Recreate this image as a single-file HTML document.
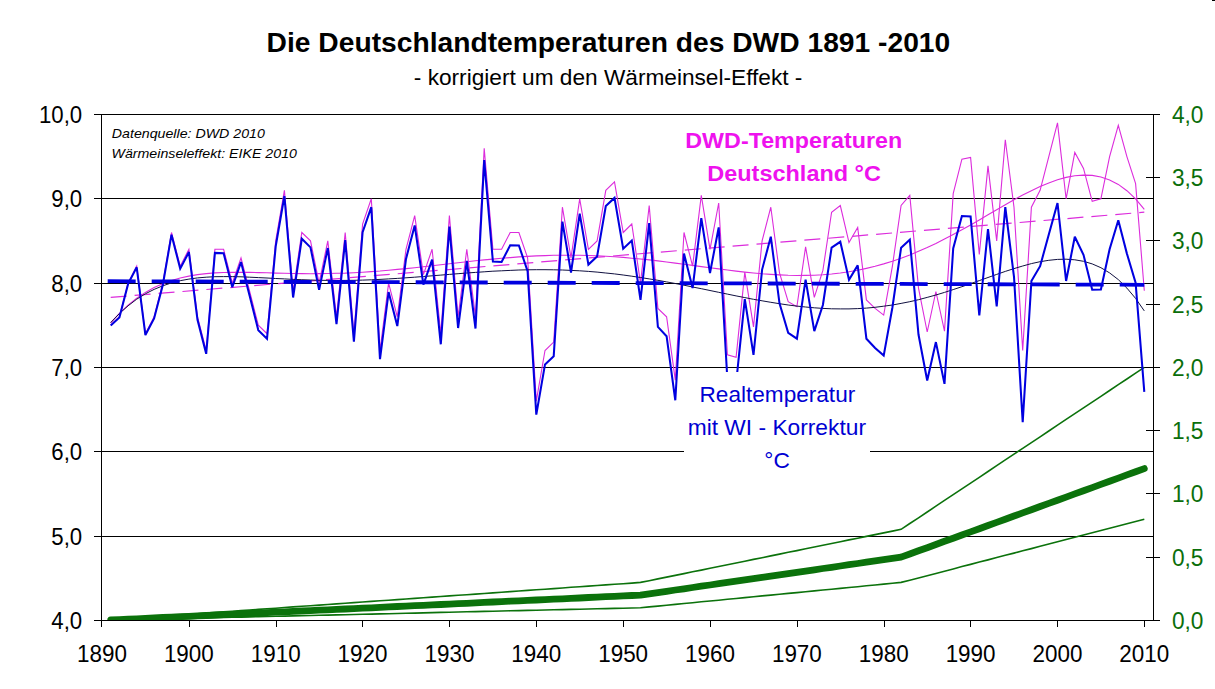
<!DOCTYPE html>
<html><head><meta charset="utf-8"><title>Deutschlandtemperaturen</title>
<style>
html,body{margin:0;padding:0;background:#fff;}
body{width:1215px;height:689px;overflow:hidden;position:relative;font-family:"Liberation Sans",sans-serif;}
svg{position:absolute;left:0;top:0;}
text{font-family:"Liberation Sans",sans-serif;}
</style></head><body>
<svg width="1215" height="689" viewBox="0 0 1215 689">
<rect width="1215" height="689" fill="#ffffff"/>

<g shape-rendering="crispEdges">
<rect x="94" y="114" width="1060" height="1" fill="#000"/>
<rect x="94" y="198" width="1060" height="1" fill="#000"/>
<rect x="94" y="283" width="1060" height="1" fill="#000"/>
<rect x="94" y="367" width="1060" height="1" fill="#000"/>
<rect x="94" y="451" width="1060" height="1" fill="#000"/>
<rect x="94" y="536" width="1060" height="1" fill="#000"/>
<rect x="94" y="620" width="1066" height="1" fill="#000"/>
<rect x="101" y="114" width="1" height="513" fill="#000"/>
<rect x="1153" y="114" width="1" height="507" fill="#000"/>
<rect x="189" y="620" width="1" height="7" fill="#000"/>
<rect x="276" y="620" width="1" height="7" fill="#000"/>
<rect x="362" y="620" width="1" height="7" fill="#000"/>
<rect x="449" y="620" width="1" height="7" fill="#000"/>
<rect x="536" y="620" width="1" height="7" fill="#000"/>
<rect x="623" y="620" width="1" height="7" fill="#000"/>
<rect x="710" y="620" width="1" height="7" fill="#000"/>
<rect x="797" y="620" width="1" height="7" fill="#000"/>
<rect x="884" y="620" width="1" height="7" fill="#000"/>
<rect x="970" y="620" width="1" height="7" fill="#000"/>
<rect x="1057" y="620" width="1" height="7" fill="#000"/>
<rect x="1144" y="620" width="1" height="7" fill="#000"/>
<rect x="1146" y="620" width="14" height="1" fill="#000"/>
<rect x="1146" y="557" width="14" height="1" fill="#000"/>
<rect x="1146" y="493" width="14" height="1" fill="#000"/>
<rect x="1146" y="430" width="14" height="1" fill="#000"/>
<rect x="1146" y="367" width="14" height="1" fill="#000"/>
<rect x="1146" y="304" width="14" height="1" fill="#000"/>
<rect x="1146" y="240" width="14" height="1" fill="#000"/>
<rect x="1146" y="177" width="14" height="1" fill="#000"/>
<rect x="1146" y="114" width="14" height="1" fill="#000"/>
</g>
<clipPath id="pc"><rect x="102" y="114" width="1051" height="506"/></clipPath><g clip-path="url(#pc)">
<path d="M110.7,619.8 L119.4,619.2 L128.1,618.6 L136.7,618.0 L145.4,617.3 L154.1,616.7 L162.8,616.1 L171.5,615.5 L180.2,614.9 L188.9,614.3 L197.5,613.7 L206.2,613.1 L214.9,612.4 L223.6,611.8 L232.3,611.2 L241.0,610.6 L249.7,610.0 L258.3,609.4 L267.0,608.8 L275.7,608.2 L284.4,607.5 L293.1,606.9 L301.8,606.3 L310.5,605.7 L319.1,605.1 L327.8,604.5 L336.5,603.9 L345.2,603.3 L353.9,602.6 L362.6,602.0 L371.3,601.4 L380.0,600.8 L388.6,600.2 L397.3,599.6 L406.0,599.0 L414.7,598.4 L423.4,597.8 L432.1,597.1 L440.8,596.5 L449.4,595.9 L458.1,595.3 L466.8,594.7 L475.5,594.1 L484.2,593.5 L492.9,592.9 L501.6,592.2 L510.2,591.6 L518.9,591.0 L527.6,590.4 L536.3,589.8 L545.0,589.2 L553.7,588.6 L562.4,588.0 L571.0,587.3 L579.7,586.7 L588.4,586.1 L597.1,585.5 L605.8,584.9 L614.5,584.3 L623.2,583.7 L631.8,583.1 L640.5,582.4 L649.2,580.7 L657.9,578.9 L666.6,577.1 L675.3,575.4 L684.0,573.6 L692.6,571.8 L701.3,570.1 L710.0,568.3 L718.7,566.5 L727.4,564.7 L736.1,563.0 L744.8,561.2 L753.5,559.4 L762.1,557.7 L770.8,555.9 L779.5,554.1 L788.2,552.3 L796.9,550.6 L805.6,548.8 L814.3,547.0 L822.9,545.3 L831.6,543.5 L840.3,541.7 L849.0,539.9 L857.7,538.2 L866.4,536.4 L875.1,534.6 L883.7,532.9 L892.4,531.1 L901.1,529.3 L909.8,523.5 L918.5,517.8 L927.2,512.0 L935.9,506.2 L944.5,500.4 L953.2,494.6 L961.9,488.8 L970.6,483.1 L979.3,477.3 L988.0,471.5 L996.7,465.7 L1005.3,459.9 L1014.0,454.1 L1022.7,448.4 L1031.4,442.6 L1040.1,436.8 L1048.8,431.0 L1057.5,425.2 L1066.1,419.4 L1074.8,413.7 L1083.5,407.9 L1092.2,402.1 L1100.9,396.3 L1109.6,390.5 L1118.3,384.7 L1126.9,379.0 L1135.6,373.2 L1144.3,367.4" fill="none" stroke="#0b720b" stroke-width="1.6"/>
<path d="M110.7,620.2 L119.4,620.0 L128.1,619.8 L136.7,619.6 L145.4,619.4 L154.1,619.2 L162.8,619.0 L171.5,618.8 L180.2,618.6 L188.9,618.4 L197.5,618.2 L206.2,618.0 L214.9,617.7 L223.6,617.5 L232.3,617.3 L241.0,617.1 L249.7,616.9 L258.3,616.7 L267.0,616.5 L275.7,616.3 L284.4,616.1 L293.1,615.9 L301.8,615.7 L310.5,615.5 L319.1,615.3 L327.8,615.1 L336.5,614.9 L345.2,614.7 L353.9,614.5 L362.6,614.3 L371.3,614.1 L380.0,613.9 L388.6,613.7 L397.3,613.5 L406.0,613.3 L414.7,613.1 L423.4,612.9 L432.1,612.6 L440.8,612.4 L449.4,612.2 L458.1,612.0 L466.8,611.8 L475.5,611.6 L484.2,611.4 L492.9,611.2 L501.6,611.0 L510.2,610.8 L518.9,610.6 L527.6,610.4 L536.3,610.2 L545.0,610.0 L553.7,609.8 L562.4,609.6 L571.0,609.4 L579.7,609.2 L588.4,609.0 L597.1,608.8 L605.8,608.6 L614.5,608.4 L623.2,608.2 L631.8,608.0 L640.5,607.8 L649.2,606.9 L657.9,606.1 L666.6,605.2 L675.3,604.4 L684.0,603.5 L692.6,602.7 L701.3,601.8 L710.0,601.0 L718.7,600.2 L727.4,599.3 L736.1,598.5 L744.8,597.6 L753.5,596.8 L762.1,595.9 L770.8,595.1 L779.5,594.3 L788.2,593.4 L796.9,592.6 L805.6,591.7 L814.3,590.9 L822.9,590.0 L831.6,589.2 L840.3,588.4 L849.0,587.5 L857.7,586.7 L866.4,585.8 L875.1,585.0 L883.7,584.1 L892.4,583.3 L901.1,582.4 L909.8,580.2 L918.5,577.9 L927.2,575.7 L935.9,573.4 L944.5,571.2 L953.2,568.9 L961.9,566.6 L970.6,564.4 L979.3,562.1 L988.0,559.9 L996.7,557.6 L1005.3,555.3 L1014.0,553.1 L1022.7,550.8 L1031.4,548.6 L1040.1,546.3 L1048.8,544.0 L1057.5,541.8 L1066.1,539.5 L1074.8,537.3 L1083.5,535.0 L1092.2,532.8 L1100.9,530.5 L1109.6,528.2 L1118.3,526.0 L1126.9,523.7 L1135.6,521.5 L1144.3,519.2" fill="none" stroke="#0b720b" stroke-width="1.6"/>
<path d="M110.7,620.0 L119.4,619.6 L128.1,619.2 L136.7,618.8 L145.4,618.4 L154.1,618.0 L162.8,617.5 L171.5,617.1 L180.2,616.7 L188.9,616.3 L197.5,615.9 L206.2,615.5 L214.9,615.1 L223.6,614.7 L232.3,614.3 L241.0,613.9 L249.7,613.5 L258.3,613.1 L267.0,612.6 L275.7,612.2 L284.4,611.8 L293.1,611.4 L301.8,611.0 L310.5,610.6 L319.1,610.2 L327.8,609.8 L336.5,609.4 L345.2,609.0 L353.9,608.6 L362.6,608.2 L371.3,607.8 L380.0,607.3 L388.6,606.9 L397.3,606.5 L406.0,606.1 L414.7,605.7 L423.4,605.3 L432.1,604.9 L440.8,604.5 L449.4,604.1 L458.1,603.7 L466.8,603.3 L475.5,602.9 L484.2,602.4 L492.9,602.0 L501.6,601.6 L510.2,601.2 L518.9,600.8 L527.6,600.4 L536.3,600.0 L545.0,599.6 L553.7,599.2 L562.4,598.8 L571.0,598.4 L579.7,598.0 L588.4,597.5 L597.1,597.1 L605.8,596.7 L614.5,596.3 L623.2,595.9 L631.8,595.5 L640.5,595.1 L649.2,593.8 L657.9,592.6 L666.6,591.3 L675.3,590.0 L684.0,588.8 L692.6,587.5 L701.3,586.2 L710.0,585.0 L718.7,583.7 L727.4,582.4 L736.1,581.2 L744.8,579.9 L753.5,578.7 L762.1,577.4 L770.8,576.1 L779.5,574.9 L788.2,573.6 L796.9,572.3 L805.6,571.1 L814.3,569.8 L822.9,568.5 L831.6,567.3 L840.3,566.0 L849.0,564.7 L857.7,563.5 L866.4,562.2 L875.1,560.9 L883.7,559.7 L892.4,558.4 L901.1,557.1 L909.8,554.0 L918.5,550.8 L927.2,547.7 L935.9,544.5 L944.5,541.3 L953.2,538.2 L961.9,535.0 L970.6,531.9 L979.3,528.7 L988.0,525.5 L996.7,522.4 L1005.3,519.2 L1014.0,516.0 L1022.7,512.9 L1031.4,509.7 L1040.1,506.5 L1048.8,503.4 L1057.5,500.2 L1066.1,497.1 L1074.8,493.9 L1083.5,490.7 L1092.2,487.6 L1100.9,484.4 L1109.6,481.2 L1118.3,478.1 L1126.9,474.9 L1135.6,471.8 L1144.3,468.6" fill="none" stroke="#0b720b" stroke-width="6.8" stroke-linejoin="round" stroke-linecap="round"/>
</g>
<path d="M110.7,325.2 L119.4,316.8 L128.1,283.1 L136.7,266.2 L145.4,333.7 L154.1,316.8 L162.8,283.1 L171.5,232.5 L180.2,266.2 L188.9,249.3 L197.5,316.8 L206.2,350.5 L214.9,249.3 L223.6,249.3 L232.3,283.1 L241.0,257.8 L249.7,291.5 L258.3,325.2 L267.0,333.7 L275.7,240.9 L284.4,190.3 L293.1,291.5 L301.8,232.5 L310.5,240.9 L319.1,283.1 L327.8,240.9 L336.5,316.8 L345.2,232.5 L353.9,333.7 L362.6,224.0 L371.3,198.8 L380.0,350.5 L388.6,283.1 L397.3,316.8 L406.0,249.3 L414.7,215.6 L423.4,274.6 L432.1,249.3 L440.8,333.7 L449.4,215.6 L458.1,316.8 L466.8,249.3 L475.5,316.8 L484.2,148.2 L492.9,249.3 L501.6,249.3 L510.2,232.5 L518.9,232.5 L527.6,257.8 L536.3,401.1 L545.0,350.5 L553.7,342.1 L562.4,207.2 L571.0,257.8 L579.7,198.8 L588.4,249.3 L597.1,240.9 L605.8,190.3 L614.5,181.9 L623.2,232.5 L631.8,224.0 L640.5,283.1 L649.2,205.5 L657.9,308.4 L666.6,316.8 L675.3,380.1 L684.0,232.5 L692.6,266.2 L701.3,195.4 L710.0,249.3 L718.7,203.0 L727.4,354.8 L736.1,357.3 L744.8,272.1 L753.5,326.9 L762.1,240.9 L770.8,207.2 L779.5,273.0 L788.2,301.6 L796.9,306.7 L805.6,246.8 L814.3,297.4 L822.9,270.4 L831.6,212.2 L840.3,205.5 L849.0,242.6 L857.7,227.4 L866.4,299.9 L875.1,308.4 L883.7,315.1 L892.4,266.2 L901.1,205.5 L909.8,195.4 L918.5,288.1 L927.2,332.0 L935.9,291.5 L944.5,331.1 L953.2,193.7 L961.9,159.1 L970.6,157.4 L979.3,254.4 L988.0,165.9 L996.7,240.9 L1005.3,139.7 L1014.0,207.2 L1022.7,350.5 L1031.4,207.2 L1040.1,190.3 L1048.8,156.6 L1057.5,122.9 L1066.1,198.8 L1074.8,152.4 L1083.5,168.4 L1092.2,201.3 L1100.9,198.8 L1109.6,156.6 L1118.3,125.4 L1126.9,156.6 L1135.6,183.6 L1144.3,290.7" fill="none" stroke="#dc2cdc" stroke-width="1.1" stroke-linejoin="miter"/>
<path d="M110.7,322.9 L119.4,313.3 L128.1,305.1 L136.7,298.2 L145.4,292.4 L154.1,287.6 L162.8,283.7 L171.5,280.5 L180.2,278.0 L188.9,276.1 L197.5,274.6 L206.2,273.6 L214.9,272.9 L223.6,272.5 L232.3,272.4 L241.0,272.3 L249.7,272.4 L258.3,272.6 L267.0,272.8 L275.7,273.1 L284.4,273.3 L293.1,273.5 L301.8,273.6 L310.5,273.7 L319.1,273.6 L327.8,273.5 L336.5,273.3 L345.2,273.1 L353.9,272.7 L362.6,272.2 L371.3,271.6 L380.0,271.0 L388.6,270.2 L397.3,269.4 L406.0,268.6 L414.7,267.7 L423.4,266.7 L432.1,265.8 L440.8,264.8 L449.4,263.8 L458.1,262.8 L466.8,261.8 L475.5,260.8 L484.2,259.9 L492.9,259.1 L501.6,258.3 L510.2,257.6 L518.9,256.9 L527.6,256.4 L536.3,255.9 L545.0,255.6 L553.7,255.3 L562.4,255.2 L571.0,255.2 L579.7,255.3 L588.4,255.5 L597.1,255.8 L605.8,256.2 L614.5,256.8 L623.2,257.4 L631.8,258.2 L640.5,259.0 L649.2,259.9 L657.9,260.9 L666.6,262.0 L675.3,263.1 L684.0,264.2 L692.6,265.4 L701.3,266.6 L710.0,267.7 L718.7,268.9 L727.4,270.0 L736.1,271.1 L744.8,272.1 L753.5,273.0 L762.1,273.8 L770.8,274.4 L779.5,274.9 L788.2,275.3 L796.9,275.5 L805.6,275.4 L814.3,275.2 L822.9,274.7 L831.6,274.0 L840.3,273.0 L849.0,271.8 L857.7,270.3 L866.4,268.4 L875.1,266.3 L883.7,263.9 L892.4,261.2 L901.1,258.2 L909.8,254.9 L918.5,251.3 L927.2,247.5 L935.9,243.4 L944.5,239.0 L953.2,234.5 L961.9,229.8 L970.6,224.9 L979.3,219.9 L988.0,214.8 L996.7,209.8 L1005.3,204.7 L1014.0,199.8 L1022.7,195.1 L1031.4,190.7 L1040.1,186.6 L1048.8,182.9 L1057.5,179.8 L1066.1,177.4 L1074.8,175.8 L1083.5,175.1 L1092.2,175.4 L1100.9,177.0 L1109.6,179.9 L1118.3,184.4 L1126.9,190.7 L1135.6,198.9 L1144.3,209.3" fill="none" stroke="#dc2cdc" stroke-width="1.1"/>
<line x1="110.7" y1="297.4" x2="1144.3" y2="212.2" stroke="#dc2cdc" stroke-width="1.2" stroke-dasharray="16,8"/>
<path d="M110.7,322.6 L119.4,313.5 L128.1,305.8 L136.7,299.2 L145.4,293.8 L154.1,289.4 L162.8,285.8 L171.5,282.9 L180.2,280.7 L188.9,279.1 L197.5,277.9 L206.2,277.2 L214.9,276.7 L223.6,276.6 L232.3,276.6 L241.0,276.8 L249.7,277.2 L258.3,277.6 L267.0,278.0 L275.7,278.5 L284.4,278.9 L293.1,279.4 L301.8,279.7 L310.5,280.0 L319.1,280.3 L327.8,280.4 L336.5,280.5 L345.2,280.4 L353.9,280.3 L362.6,280.1 L371.3,279.8 L380.0,279.4 L388.6,278.9 L397.3,278.4 L406.0,277.8 L414.7,277.2 L423.4,276.5 L432.1,275.8 L440.8,275.1 L449.4,274.4 L458.1,273.7 L466.8,273.0 L475.5,272.4 L484.2,271.8 L492.9,271.2 L501.6,270.8 L510.2,270.4 L518.9,270.0 L527.6,269.8 L536.3,269.7 L545.0,269.7 L553.7,269.8 L562.4,270.0 L571.0,270.4 L579.7,270.8 L588.4,271.4 L597.1,272.1 L605.8,273.0 L614.5,273.9 L623.2,275.0 L631.8,276.2 L640.5,277.5 L649.2,278.9 L657.9,280.3 L666.6,281.9 L675.3,283.5 L684.0,285.2 L692.6,287.0 L701.3,288.7 L710.0,290.5 L718.7,292.3 L727.4,294.1 L736.1,295.9 L744.8,297.6 L753.5,299.3 L762.1,300.8 L770.8,302.3 L779.5,303.7 L788.2,305.0 L796.9,306.1 L805.6,307.0 L814.3,307.8 L822.9,308.4 L831.6,308.8 L840.3,308.9 L849.0,308.9 L857.7,308.6 L866.4,308.1 L875.1,307.3 L883.7,306.2 L892.4,305.0 L901.1,303.4 L909.8,301.7 L918.5,299.7 L927.2,297.4 L935.9,295.0 L944.5,292.4 L953.2,289.6 L961.9,286.7 L970.6,283.6 L979.3,280.6 L988.0,277.5 L996.7,274.4 L1005.3,271.4 L1014.0,268.6 L1022.7,266.0 L1031.4,263.6 L1040.1,261.7 L1048.8,260.3 L1057.5,259.4 L1066.1,259.2 L1074.8,259.8 L1083.5,261.3 L1092.2,263.9 L1100.9,267.7 L1109.6,272.9 L1118.3,279.6 L1126.9,288.1 L1135.6,298.4 L1144.3,310.9" fill="none" stroke="#101040" stroke-width="1"/>
<line x1="107.7" y1="281.2" x2="1144.3" y2="284.8" stroke="#0000e0" stroke-width="3.8" stroke-dasharray="28,16"/>
<path d="M110.7,325.5 L119.4,317.4 L128.1,283.9 L136.7,267.3 L145.4,335.0 L154.1,318.4 L162.8,285.0 L171.5,234.7 L180.2,268.7 L188.9,252.1 L197.5,319.8 L206.2,353.8 L214.9,252.9 L223.6,253.2 L232.3,287.2 L241.0,262.1 L249.7,296.1 L258.3,330.1 L267.0,338.8 L275.7,246.4 L284.4,196.0 L293.1,297.5 L301.8,238.7 L310.5,247.4 L319.1,289.9 L327.8,248.0 L336.5,324.2 L345.2,240.1 L353.9,341.6 L362.6,232.2 L371.3,207.2 L380.0,359.2 L388.6,292.1 L397.3,326.1 L406.0,258.9 L414.7,225.4 L423.4,284.7 L432.1,259.7 L440.8,344.3 L449.4,226.5 L458.1,328.0 L466.8,260.8 L475.5,328.5 L484.2,160.1 L492.9,261.6 L501.6,261.9 L510.2,245.3 L518.9,245.5 L527.6,271.1 L536.3,414.7 L545.0,364.4 L553.7,356.3 L562.4,221.6 L571.0,272.5 L579.7,213.7 L588.4,264.6 L597.1,256.4 L605.8,206.1 L614.5,197.9 L623.2,248.8 L631.8,240.6 L640.5,299.9 L649.2,223.2 L657.9,326.9 L666.6,336.2 L675.3,400.3 L684.0,253.6 L692.6,288.1 L701.3,218.1 L710.0,273.0 L718.7,227.4 L727.4,380.1 L736.1,383.4 L744.8,299.1 L753.5,354.8 L762.1,269.6 L770.8,236.7 L779.5,303.3 L788.2,332.8 L796.9,338.7 L805.6,279.7 L814.3,331.1 L822.9,305.0 L831.6,247.7 L840.3,241.8 L849.0,279.7 L857.7,265.4 L866.4,338.7 L875.1,348.0 L883.7,355.6 L892.4,307.5 L901.1,247.7 L909.8,239.7 L918.5,334.5 L927.2,380.5 L935.9,342.1 L944.5,383.9 L953.2,248.5 L961.9,216.0 L970.6,216.5 L979.3,315.5 L988.0,229.1 L996.7,306.3 L1005.3,207.2 L1014.0,276.8 L1022.7,422.2 L1031.4,281.0 L1040.1,266.2 L1048.8,234.6 L1057.5,203.0 L1066.1,281.0 L1074.8,236.7 L1083.5,254.8 L1092.2,289.8 L1100.9,289.4 L1109.6,249.3 L1118.3,220.3 L1126.9,253.6 L1135.6,282.7 L1144.3,391.9" fill="none" stroke="#0000e0" stroke-width="2.05" stroke-linejoin="miter" stroke-miterlimit="3"/>
<rect x="684" y="372" width="186" height="115" fill="#fff"/>
<text transform="translate(699.50,401.90) scale(1.0272,1)" font-size="22px" fill="#0000d2">Realtemperatur</text>
<text transform="translate(687.70,434.70) scale(1.0350,1)" font-size="22px" fill="#0000d2">mit WI - Korrektur</text>
<text transform="translate(764.30,467.70) scale(1.0349,1)" font-size="22px" fill="#0000d2">°C</text>
<text transform="translate(685.30,147.90) scale(1.0258,1)" font-size="22.7px" font-weight="bold" fill="#ee12ee">DWD-Temperaturen</text>
<text transform="translate(707.30,181.10) scale(1.0341,1)" font-size="22.7px" font-weight="bold" fill="#ee12ee">Deutschland °C</text>
<text transform="translate(111.80,137.60) scale(1.0920,1)" font-size="13px" font-style="italic" fill="#000">Datenquelle: DWD 2010</text>
<text transform="translate(111.50,157.60) scale(1.0926,1)" font-size="13px" font-style="italic" fill="#000">Wärmeinseleffekt: EIKE 2010</text>
<text transform="translate(266.60,52.30) scale(1.0452,1)" font-size="27px" font-weight="bold" fill="#000">Die Deutschlandtemperaturen des DWD 1891 -2010</text>
<text transform="translate(413.80,85.10) scale(1.0299,1)" font-size="22px" fill="#000">- korrigiert um den Wärmeinsel-Effekt -</text>
<text transform="translate(51.31,628.90) scale(0.9144,1)" font-size="24.3px" fill="#000">4,0</text>
<text transform="translate(51.31,544.57) scale(0.9144,1)" font-size="24.3px" fill="#000">5,0</text>
<text transform="translate(51.31,460.24) scale(0.9144,1)" font-size="24.3px" fill="#000">6,0</text>
<text transform="translate(51.31,375.91) scale(0.9144,1)" font-size="24.3px" fill="#000">7,0</text>
<text transform="translate(51.31,291.58) scale(0.9144,1)" font-size="24.3px" fill="#000">8,0</text>
<text transform="translate(51.31,207.25) scale(0.9144,1)" font-size="24.3px" fill="#000">9,0</text>
<text transform="translate(38.98,122.92) scale(0.9144,1)" font-size="24.3px" fill="#000">10,0</text>
<text transform="translate(77.04,661.60) scale(0.9350,1)" font-size="24px" fill="#000">1890</text>
<text transform="translate(163.90,661.60) scale(0.9350,1)" font-size="24px" fill="#000">1900</text>
<text transform="translate(250.76,661.60) scale(0.9350,1)" font-size="24px" fill="#000">1910</text>
<text transform="translate(337.62,661.60) scale(0.9350,1)" font-size="24px" fill="#000">1920</text>
<text transform="translate(424.48,661.60) scale(0.9350,1)" font-size="24px" fill="#000">1930</text>
<text transform="translate(511.34,661.60) scale(0.9350,1)" font-size="24px" fill="#000">1940</text>
<text transform="translate(598.20,661.60) scale(0.9350,1)" font-size="24px" fill="#000">1950</text>
<text transform="translate(685.06,661.60) scale(0.9350,1)" font-size="24px" fill="#000">1960</text>
<text transform="translate(771.92,661.60) scale(0.9350,1)" font-size="24px" fill="#000">1970</text>
<text transform="translate(858.78,661.60) scale(0.9350,1)" font-size="24px" fill="#000">1980</text>
<text transform="translate(945.64,661.60) scale(0.9350,1)" font-size="24px" fill="#000">1990</text>
<text transform="translate(1032.50,661.60) scale(0.9350,1)" font-size="24px" fill="#000">2000</text>
<text transform="translate(1119.36,661.60) scale(0.9350,1)" font-size="24px" fill="#000">2010</text>
<text transform="translate(1171.90,628.90) scale(0.9325,1)" font-size="24.3px" fill="#0b6e0b">0,0</text>
<text transform="translate(1171.90,565.65) scale(0.9325,1)" font-size="24.3px" fill="#0b6e0b">0,5</text>
<text transform="translate(1171.90,502.40) scale(0.9325,1)" font-size="24.3px" fill="#0b6e0b">1,0</text>
<text transform="translate(1171.90,439.15) scale(0.9325,1)" font-size="24.3px" fill="#0b6e0b">1,5</text>
<text transform="translate(1171.90,375.90) scale(0.9325,1)" font-size="24.3px" fill="#0b6e0b">2,0</text>
<text transform="translate(1171.90,312.65) scale(0.9325,1)" font-size="24.3px" fill="#0b6e0b">2,5</text>
<text transform="translate(1171.90,249.40) scale(0.9325,1)" font-size="24.3px" fill="#0b6e0b">3,0</text>
<text transform="translate(1171.90,186.15) scale(0.9325,1)" font-size="24.3px" fill="#0b6e0b">3,5</text>
<text transform="translate(1171.90,122.90) scale(0.9325,1)" font-size="24.3px" fill="#0b6e0b">4,0</text>
<rect x="1212" y="0" width="3" height="1" fill="#000"/>
</svg></body></html>
